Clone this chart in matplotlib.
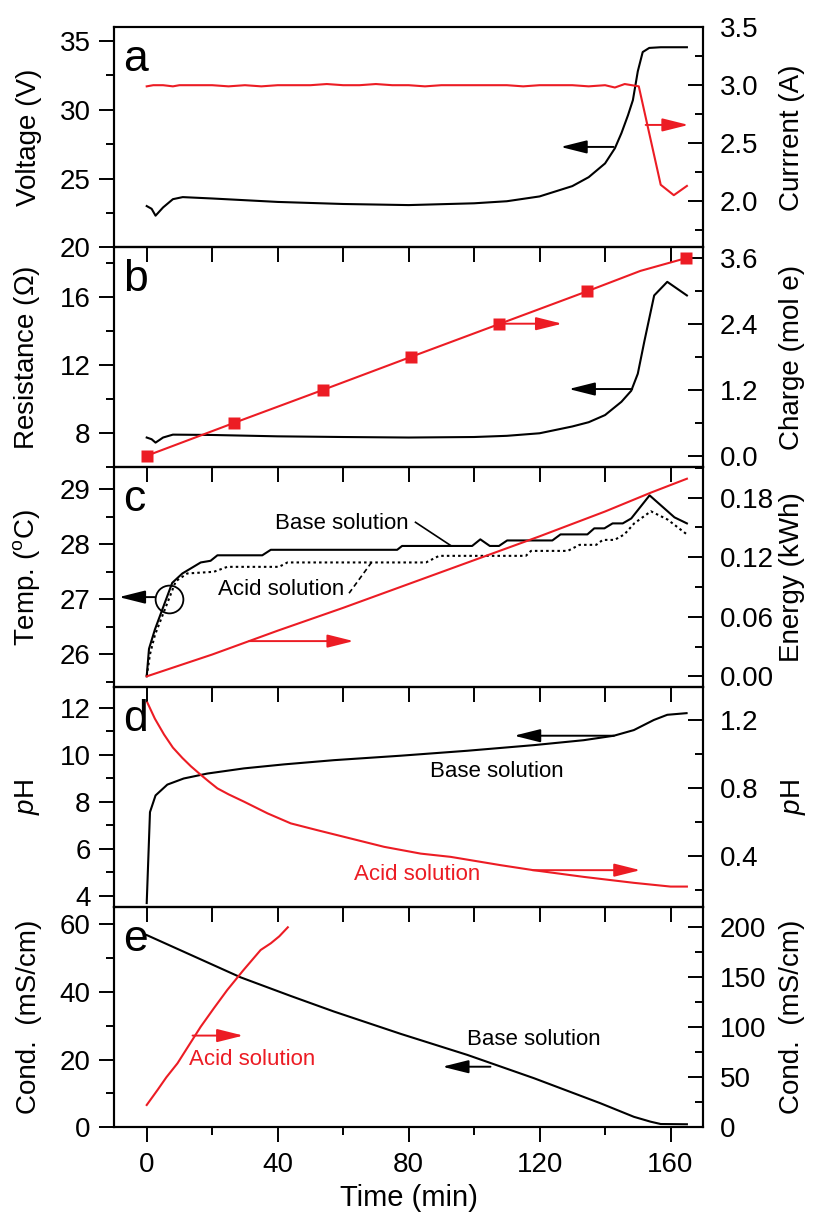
import numpy as np
import matplotlib
matplotlib.use("Agg")
import matplotlib.pyplot as plt
from matplotlib.ticker import MultipleLocator, FormatStrFormatter

# Panel a: voltage / current
volt_t = [0, 1.5, 2.7, 5, 8, 11, 20, 40, 60, 80, 100, 110, 120, 130, 135, 140, 143, 145, 147, 148.5, 150, 151.5, 153.5, 157, 165]
volt_v = [23.0, 22.8, 22.3, 22.9, 23.5, 23.65, 23.55, 23.3, 23.15, 23.07, 23.2, 23.35, 23.7, 24.45, 25.1, 26.1, 27.2, 28.3, 29.6, 30.7, 32.8, 34.2, 34.5, 34.55, 34.55]
curr_t = [0, 2, 5, 8, 10, 15, 20, 25, 30, 35, 40, 45, 50, 55, 60, 65, 70, 75, 80, 85, 90, 95, 100, 105, 110, 115, 120, 125, 130, 135, 140, 143, 146, 150.3, 152.9, 157, 161, 165]
curr_v = [2.99, 3.0, 3.0, 2.99, 3.0, 3.0, 3.0, 2.99, 3.0, 2.99, 3.0, 3.0, 3.0, 3.01, 3.0, 3.0, 3.01, 3.0, 3.0, 2.99, 3.0, 3.0, 3.0, 3.0, 3.0, 2.99, 3.0, 3.0, 3.0, 2.99, 3.0, 2.98, 3.01, 2.99, 2.66, 2.14, 2.05, 2.13]

# Panel b: resistance / charge
res_t = [0, 1.5, 2.7, 5, 8, 20, 40, 60, 80, 100, 110, 120, 130, 135, 140, 145, 148, 150, 152, 155, 159, 165]
res_v = [7.75, 7.65, 7.45, 7.75, 7.92, 7.9, 7.82, 7.78, 7.75, 7.78, 7.85, 8.0, 8.4, 8.65, 9.07, 9.85, 10.5, 11.5, 13.4, 16.1, 16.9, 16.1]
charge_t = [0, 26.7, 53.8, 80.6, 107.6, 134.6, 150.8, 164.6]
charge_v = [0.0, 0.6, 1.2, 1.8, 2.4, 3.0, 3.37, 3.6]
charge_marks = [0, 1, 2, 3, 4, 5, 7]

# Panel c: temperature / energy
tbase_t = [0, 0.7, 2.5, 5.3, 7.8, 10.9, 16.5, 19.5, 21.6, 35.3, 37.9, 76.5, 78, 99.4, 101.9, 104.8, 107.6, 110.1, 123.9, 126.4, 134.6, 136.7, 139.8, 142.3, 145.4, 148, 153.6, 161.2, 165]
tbase_v = [25.6, 26.1, 26.45, 26.9, 27.3, 27.47, 27.67, 27.7, 27.8, 27.8, 27.9, 27.9, 27.97, 27.97, 28.09, 27.97, 27.97, 28.07, 28.07, 28.18, 28.18, 28.29, 28.29, 28.38, 28.38, 28.47, 28.89, 28.49, 28.38]
tacid_t = [0, 1, 2.5, 5.3, 8.9, 12.4, 20.5, 24.6, 40.4, 43, 85.3, 89.3, 115.8, 117.4, 128.6, 132.2, 137.3, 139.3, 142.9, 145.9, 148.9, 154, 159.1, 165]
tacid_v = [25.6, 26.0, 26.35, 26.78, 27.33, 27.47, 27.5, 27.59, 27.59, 27.67, 27.67, 27.79, 27.79, 27.88, 27.88, 27.99, 27.99, 28.08, 28.08, 28.18, 28.38, 28.6, 28.45, 28.18]
energy_t = [0, 20, 40, 60, 80, 100, 120, 140, 154, 165]
energy_v = [0, 0.022, 0.046, 0.069, 0.093, 0.117, 0.141, 0.166, 0.185, 0.199]

# Panel d: pH
phb_t = [0, 1.0, 2.7, 6.3, 11.3, 18.5, 29.7, 41.9, 57.2, 77.6, 97.9, 118.3, 133.5, 142.7, 148.8, 154.9, 159, 164.9]
phb_v = [3.68, 7.55, 8.26, 8.72, 8.98, 9.19, 9.41, 9.58, 9.76, 9.95, 10.16, 10.4, 10.61, 10.8, 11.04, 11.47, 11.69, 11.76]
pha_t = [0.2, 2.5, 5.3, 8, 10.9, 13.5, 16.5, 19, 21.6, 25, 29.7, 36.9, 44, 52.1, 62.3, 72.5, 83.7, 92.8, 108.1, 118.3, 133.5, 148.8, 160, 165]
pha_v = [1.305, 1.21, 1.117, 1.04, 0.979, 0.93, 0.88, 0.84, 0.8, 0.765, 0.722, 0.653, 0.594, 0.554, 0.505, 0.456, 0.416, 0.397, 0.348, 0.318, 0.279, 0.244, 0.222, 0.222]

# Panel e: conductivity
condb_t = [0, 28.7, 44, 57.2, 77.6, 97.9, 118.3, 138.6, 148.8, 153.9, 157, 165]
condb_v = [56.8, 44.3, 38.8, 34.2, 27.6, 21.4, 14.5, 7.1, 3.1, 1.66, 0.97, 0.9]
conda_t = [0, 3.3, 6, 9.4, 12.5, 16.5, 20.5, 24.6, 29.5, 34.8, 37.9, 40.5, 43.1]
conda_v = [22.3, 37.3, 50, 64, 80, 100.6, 119, 137.3, 157, 177.3, 184, 191, 200]

red = "#ec1c24"
plt.rcParams["font.family"] = ["Liberation Sans", "DejaVu Sans"]
plt.rcParams["mathtext.fontset"] = "custom"
plt.rcParams["mathtext.rm"] = "Liberation Sans"
plt.rcParams["mathtext.it"] = "Liberation Sans:italic"
plt.rcParams["axes.linewidth"] = 1.5

fig = plt.figure(figsize=(8.17, 12.2), dpi=100)
left, width = 0.1395, 0.7213
h = 220 / 1220
top0 = 1 - 27.3 / 1220


def style_axes(ax, last):
	ax.set_xlim(-10, 170)
	ax.patch.set_facecolor("none")
	if last:
		ax.xaxis.set_major_locator(MultipleLocator(40))
		ax.xaxis.set_minor_locator(MultipleLocator(20))
		ax.tick_params(axis="x", which="major", direction="out", length=10.8, width=1.4, labelsize=20, pad=7)
		ax.tick_params(axis="x", which="minor", direction="out", length=5.8, width=1.4)
	else:
		ax.xaxis.set_major_locator(MultipleLocator(20))
		ax.tick_params(axis="x", which="major", direction="out", length=10.8, width=1.4, labelbottom=False)
	ax.tick_params(axis="y", which="major", direction="out", length=10.8, width=1.4, labelsize=20, pad=6)
	ax.tick_params(axis="y", which="minor", direction="out", length=5.8, width=1.4)
	ax.yaxis.set_label_coords(-0.122, 0.5)


def style_twin(ax2):
	ax2.tick_params(axis="y", which="major", direction="in", length=10.8, width=1.4, labelsize=20, pad=12)
	ax2.tick_params(axis="y", which="minor", direction="in", length=5.8, width=1.4)
	ax2.yaxis.set_label_coords(1.128, 0.5)


def arrow(ax, x0, x1, y, color):
	ax.annotate(
		"", xy=(x1, y), xytext=(x0, y),
		arrowprops=dict(arrowstyle="-|>,head_length=1.6,head_width=0.4", color=color, lw=1.4, mutation_scale=10, shrinkA=0, shrinkB=0)
	)


def letter(ax, s):
	ax.text(0.015, 0.8, s, transform=ax.transAxes, fontsize=32, va="baseline", ha="left")


axes = []
for i in range(5):
	ax = fig.add_axes([left, top0 - (i + 1) * h, width, h])
	style_axes(ax, i == 4)
	axes.append(ax)
ax_a, ax_b, ax_c, ax_d, ax_e = axes

# a
ax_a.plot(volt_t, volt_v, color="k", lw=1.5)
ax_a.set_ylim(20, 36)
ax_a.yaxis.set_major_locator(MultipleLocator(5))
ax_a.yaxis.set_minor_locator(MultipleLocator(2.5))
ax_a.set_ylabel("Voltage (V)", fontsize=20)
a2 = ax_a.twinx()
a2.plot(curr_t, curr_v, color=red, lw=1.5)
a2.set_ylim(1.6, 3.5)
a2.yaxis.set_major_locator(MultipleLocator(0.5))
a2.yaxis.set_minor_locator(MultipleLocator(0.25))
a2.yaxis.set_major_formatter(FormatStrFormatter("%.1f"))
a2.set_ylabel("Currrent (A)", fontsize=20)
style_twin(a2)
arrow(ax_a, 142.6, 126.4, 27.3, "k")
arrow(ax_a, 152.4, 165.5, 28.9, red)
letter(ax_a, "a")

# b
ax_b.plot(res_t, res_v, color="k", lw=1.5)
ax_b.set_ylim(6, 18.93)
ax_b.yaxis.set_major_locator(MultipleLocator(4))
ax_b.yaxis.set_minor_locator(MultipleLocator(2))
ax_b.set_ylabel("Resistance ($\\Omega$)", fontsize=20)
b2 = ax_b.twinx()
b2.plot(charge_t, charge_v, color=red, lw=1.5, marker="s", markersize=9, markevery=charge_marks, mec="none", clip_on=False)
b2.set_ylim(-0.21, 3.8)
b2.yaxis.set_major_locator(MultipleLocator(1.2))
b2.yaxis.set_minor_locator(MultipleLocator(0.6))
b2.yaxis.set_major_formatter(FormatStrFormatter("%.1f"))
b2.set_ylabel("Charge (mol e)", fontsize=20)
style_twin(b2)
arrow(ax_b, 148.3, 128.9, 10.6, "k")
arrow(ax_b, 107.6, 126.9, 14.44, red)
letter(ax_b, "b")

# c
ax_c.plot(tbase_t, tbase_v, color="k", lw=1.5)
ax_c.plot(tacid_t, tacid_v, color="k", lw=1.5, linestyle=(0, (1.2, 1.5)))
ax_c.set_ylim(25.4, 29.4)
ax_c.yaxis.set_major_locator(MultipleLocator(1))
ax_c.yaxis.set_minor_locator(MultipleLocator(0.5))
ax_c.set_ylabel("Temp. ($^{\\mathregular{o}}$C)", fontsize=20)
c2 = ax_c.twinx()
c2.plot(energy_t, energy_v, color=red, lw=1.5)
c2.set_ylim(-0.011, 0.2105)
c2.yaxis.set_major_locator(MultipleLocator(0.06))
c2.yaxis.set_minor_locator(MultipleLocator(0.03))
c2.yaxis.set_major_formatter(FormatStrFormatter("%.2f"))
c2.set_ylabel("Energy (kWh)", fontsize=20)
style_twin(c2)
ax_c.plot([6.8], [27.0], marker="o", markersize=20, mfc="none", mec="k", mew=1.3)
arrow(ax_c, 2.4, -8.5, 27.04, "k")
arrow(ax_c, 31.3, 63.2, 26.24, red)
ax_c.text(59.5, 28.38, "Base solution", fontsize=16, ha="center", va="center")
ax_c.plot([82.1, 92.8], [28.4, 27.98], color="k", lw=1.2)
ax_c.text(41.2, 27.17, "Acid solution", fontsize=16, ha="center", va="center")
ax_c.plot([61.8, 68.9], [27.11, 27.69], color="k", lw=1.2, linestyle=(0, (3, 2)))
letter(ax_c, "c")

# d
ax_d.plot(phb_t, phb_v, color="k", lw=1.5)
ax_d.set_ylim(3.5, 12.86)
ax_d.yaxis.set_major_locator(MultipleLocator(2))
ax_d.yaxis.set_minor_locator(MultipleLocator(1))
ax_d.set_ylabel("$\\mathit{p}$H", fontsize=20)
d2 = ax_d.twinx()
d2.plot(pha_t, pha_v, color=red, lw=1.5)
d2.set_ylim(0.1, 1.395)
d2.yaxis.set_major_locator(MultipleLocator(0.4))
d2.yaxis.set_minor_locator(MultipleLocator(0.2))
d2.yaxis.set_major_formatter(FormatStrFormatter("%.1f"))
d2.set_ylabel("$\\mathit{p}$H", fontsize=20)
style_twin(d2)
arrow(ax_d, 142.7, 112.2, 10.8, "k")
arrow(ax_d, 117.8, 150.8, 5.08, red)
ax_d.text(106.9, 9.26, "Base solution", fontsize=16, ha="center", va="center")
ax_d.text(82.7, 4.9, "Acid solution", fontsize=16, ha="center", va="center", color=red)
letter(ax_d, "d")

# e
ax_e.plot(condb_t, condb_v, color="k", lw=1.5)
ax_e.set_ylim(0, 65)
ax_e.yaxis.set_major_locator(MultipleLocator(20))
ax_e.yaxis.set_minor_locator(MultipleLocator(10))
ax_e.set_ylabel("Cond.  (mS/cm)", fontsize=20)
ax_e.set_xlabel("Time (min)", fontsize=21, labelpad=4)
e2 = ax_e.twinx()
e2.plot(conda_t, conda_v, color=red, lw=1.5)
e2.set_ylim(0, 220)
e2.yaxis.set_major_locator(MultipleLocator(50))
e2.yaxis.set_minor_locator(MultipleLocator(25))
e2.set_ylabel("Cond.  (mS/cm)", fontsize=20)
style_twin(e2)
arrow(ax_e, 105, 90.3, 17.9, "k")
arrow(ax_e, 14, 29.5, 27.1, red)
ax_e.text(118.2, 25.8, "Base solution", fontsize=16, ha="center", va="center")
ax_e.text(32.1, 19.9, "Acid solution", fontsize=16, ha="center", va="center", color=red)
letter(ax_e, "e")

fig.savefig("out.png", dpi=100)
